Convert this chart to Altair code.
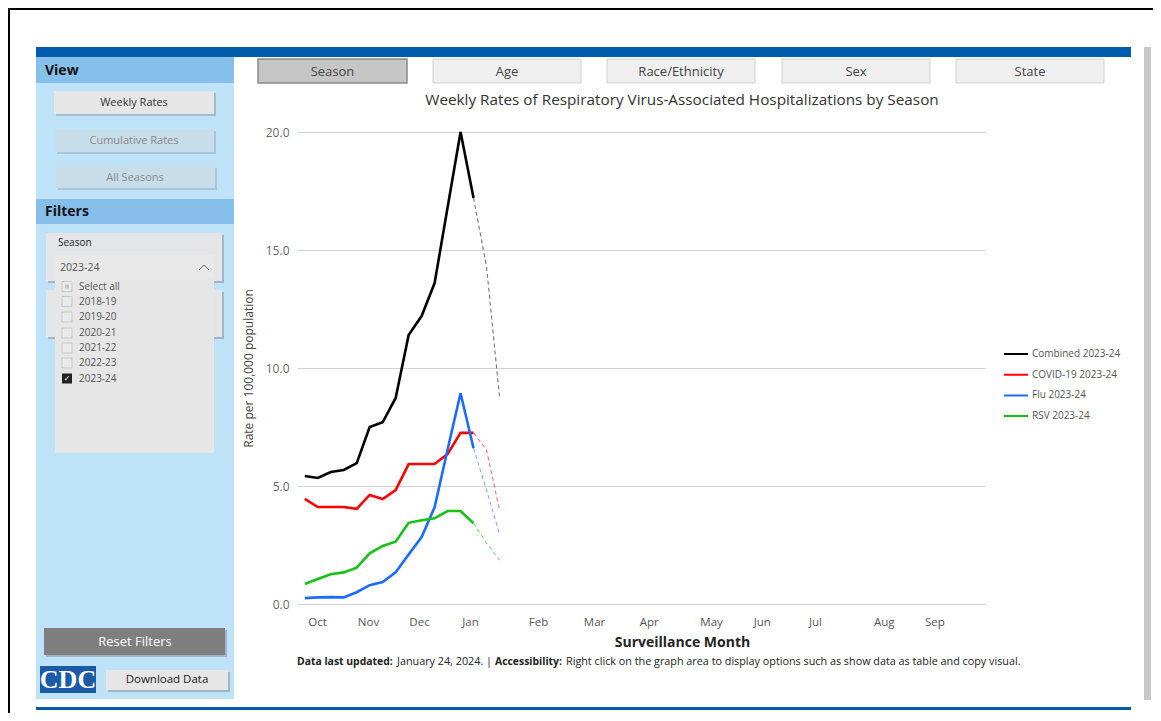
import altair as alt
import pandas as pd

# ---------------- data ----------------
weeks = list(range(16))
combined = [5.42, 5.34, 5.59, 5.68, 5.97, 7.50, 7.70, 8.73, 11.40, 12.20, 13.60, 16.80, 20.00, 17.20, 14.30, 8.77]
covid = [4.45, 4.11, 4.11, 4.11, 4.03, 4.62, 4.45, 4.83, 5.93, 5.93, 5.93, 6.35, 7.25, 7.25, 6.53, 3.98]
flu = [0.25, 0.28, 0.29, 0.28, 0.50, 0.80, 0.93, 1.34, 2.10, 2.84, 4.10, 6.55, 8.93, 6.60, 4.83, 2.96]
rsv = [0.85, 1.06, 1.26, 1.34, 1.54, 2.15, 2.46, 2.64, 3.44, 3.55, 3.63, 3.94, 3.94, 3.42, 2.58, 1.86]
series_names = ["Combined 2023-24", "COVID-19 2023-24", "Flu 2023-24", "RSV 2023-24"]
series_colors = ["#000000", "#FF0000", "#1A6BFF", "#17C217"]
last_final_week = 13  # later weeks are preliminary (dashed)

month_labels = ["Oct", "Nov", "Dec", "Jan", "Feb", "Mar", "Apr", "May", "Jun", "Jul", "Aug", "Sep"]
month_positions = [0.94, 4.87, 8.8, 12.73, 17.97, 22.28, 26.5, 31.3, 35.2, 39.3, 44.6, 48.5]
y_ticks = [0, 5, 10, 15, 20]

season_items = ["Select all", "2018-19", "2019-20", "2020-21", "2021-22", "2022-23", "2023-24"]
tab_labels = ["Season", "Age", "Race/Ethnicity", "Sex", "State"]

rows = []
for name, vals in zip(series_names, [combined, covid, flu, rsv]):
    for w, v in zip(weeks, vals):
        if w <= last_final_week:
            rows.append({"series": name, "week": w, "rate": v, "part": "final"})
        if w >= last_final_week:
            rows.append({"series": name, "week": w, "rate": v, "part": "prelim"})
df = pd.DataFrame(rows)

FONT = "Open Sans"
OX, OY = 297, 132  # page position of plot origin
W, H = 688, 472
SVG_W, SVG_H = 1145, 705

xscale = alt.Scale(domain=[-0.6, 52.4], nice=False, zero=False)
yscale = alt.Scale(domain=[0, 20], nice=False)
cscale = alt.Scale(domain=series_names, range=series_colors)

label_expr = "[" + ",".join("'%s'" % m for m in month_labels) + "][indexof([" + \
    ",".join(str(p) for p in month_positions) + "], datum.value)]"

base = alt.Chart(df)
solid = base.transform_filter(alt.datum.part == "final").mark_line(strokeWidth=2.6).encode(
    x=alt.X("week:Q", scale=xscale,
            axis=alt.Axis(values=month_positions, labelExpr=label_expr, grid=False, ticks=False,
                          domain=False, labelPadding=12, labelFontSize=11.5, labelColor="#555",
                          title="Surveillance Month", titleFontSize=14, titleFontWeight="bold",
                          titleColor="#252423", titleX=385, titleY=38, titleAlign="center",
                          titleBaseline="middle", labelFlush=False)),
    y=alt.Y("rate:Q", scale=yscale,
            axis=alt.Axis(values=y_ticks, format=".1f", grid=True, gridColor="#D2D2D2", ticks=False,
                          domain=False, labelPadding=8, labelFontSize=12, labelColor="#666",
                          title="Rate per 100,000 population", titleFontSize=12,
                          titleFontWeight="normal", titleColor="#444", titleX=-49, titleY=236,
                          titleAlign="center", titleBaseline="middle", titleAngle=270)),
    color=alt.Color("series:N", scale=cscale, sort=series_names,
                    legend=alt.Legend(title=None, orient="none", legendX=706, legendY=216,
                                      symbolType="stroke", symbolSize=576, symbolStrokeWidth=2,
                                      clipHeight=12, rowPadding=8.7, labelFontSize=10,
                                      labelColor="#555", labelOffset=3, labelFont=FONT)),
    detail="series:N",
)
dashed = base.transform_filter(alt.datum.part == "prelim").mark_line(
    strokeWidth=1.1, strokeDash=[4, 3], opacity=0.55).encode(
    x=alt.X("week:Q", scale=xscale),
    y=alt.Y("rate:Q", scale=yscale),
    color=alt.Color("series:N", scale=cscale, legend=None),
    detail="series:N",
)

# ---------------- dashboard decorations (page pixel layout) ----------------
dummy = pd.DataFrame({"d": [0]})


def rect(x1, y1, x2, y2, fill, stroke=None, sw=0.0):
    kw = dict(fill=fill)
    if stroke:
        kw.update(stroke=stroke, strokeWidth=sw)
    return alt.Chart(dummy).mark_rect(**kw).encode(
        x=alt.value(x1 - OX), x2=alt.value(x2 - OX), y=alt.value(y1 - OY), y2=alt.value(y2 - OY))


def seg(x1, y1, x2, y2, color, sw=1.0):
    return alt.Chart(dummy).mark_rule(color=color, strokeWidth=sw).encode(
        x=alt.value(x1 - OX), x2=alt.value(x2 - OX), y=alt.value(y1 - OY), y2=alt.value(y2 - OY))


def text(s, x, y, size=11, color="#333", weight="normal", align="left", font=FONT):
    return alt.Chart(dummy).mark_text(text=s, fontSize=size, color=color, fontWeight=weight,
                                      align=align, baseline="middle", font=font).encode(
        x=alt.value(x - OX), y=alt.value(y - OY))


deco = []
# window frame
deco += [rect(8, 8, 1153, 10, "#000000"), rect(8, 8, 10, 713, "#000000")]
# top blue bar, bottom line, scrollbar
deco += [rect(36, 47, 1131, 57, "#005DAD"), rect(36, 707, 1131, 710, "#005DAD"),
         rect(1144, 47, 1151, 700, "#C8C8C8")]
# left panel
deco += [rect(36, 57, 234, 699, "#BEE3F8"),
         rect(36, 57, 234, 83, "#85BFEA"), text("View", 45, 71, 14, "#111", "bold"),
         rect(36, 199, 234, 224, "#85BFEA"), text("Filters", 45, 212, 14, "#111", "bold")]
# view buttons
deco += [rect(56, 93, 216, 116, "#9FBCD0"), rect(54, 91, 214, 114, "#E6E6E6"),
         text("Weekly Rates", 134, 103, 11, "#333", align="center"),
         rect(57, 131, 216, 154, "#A9C6D8"), rect(55, 129, 214, 152, "#C8DDEA"),
         text("Cumulative Rates", 134, 141, 11, "#8A8A8A", align="center"),
         rect(58, 168, 217, 190, "#A9C6D8"), rect(56, 166, 215, 188, "#C8DDEA"),
         text("All Seasons", 135, 178, 11, "#8A8A8A", align="center")]
# slicers
deco += [rect(48, 292, 224, 339, "#9FB6C6"), rect(46, 290, 222, 337, "#E3E5E6"),
         rect(48, 235, 224, 283, "#9FB6C6"), rect(46, 233, 222, 281, "#E3E5E6"),
         text("Season", 58, 243, 10, "#222"),
         rect(55, 255, 214, 277, "#E8E8E8"),
         text("2023-24", 60, 268, 10.5, "#555"),
         seg(199, 270, 204, 265, "#666", 1), seg(204, 265, 209, 270, "#666", 1),
         rect(55, 277, 214, 453, "#E6E6E6")]
item_y = [286.5, 301.5, 317, 333, 348, 363, 378.5]
for lab, yy in zip(season_items, item_y):
    if lab == "2023-24":
        deco += [rect(62, yy - 5, 72, yy + 5, "#222222"),
                 text("\u2713", 67, yy, 8, "#FFFFFF", align="center", font="DejaVu Sans")]
    else:
        deco += [rect(62, yy - 5, 72, yy + 5, "#E9E9E9", "#C9C9C9", 1)]
        if lab == "Select all":
            deco += [rect(65, yy - 2, 69, yy + 2, "#C4C4C4")]
    deco += [text(lab, 79, yy, 10, "#555")]
# reset / logo / download
deco += [rect(46, 630, 227, 657, "#9FB6C6"), rect(44, 628, 225, 655, "#7F7F7F"),
         text("Reset Filters", 135, 642, 13, "#FFFFFF", align="center"),
         rect(40, 666, 96, 693, "#1B5AA7"),
         text("CDC", 68, 680, 26, "#FFFFFF", "bold", align="center", font="Liberation Serif"),
         rect(108, 672, 230, 692, "#9FB6C6"), rect(106, 670, 228, 690, "#E6E6E6"),
         text("Download Data", 167, 680, 11.5, "#222", align="center")]
# tabs
tab_x = [(258, 407), (433, 581), (607, 755), (782, 930), (956, 1104)]
for lab, (a, b) in zip(tab_labels, tab_x):
    if lab == "Season":
        deco += [rect(a, 59, b, 83, "#C6C6C6", "#8A8A8A", 1.5)]
    else:
        deco += [rect(a, 59, b, 83, "#EFEFEF", "#D2D2D2", 1)]
    deco += [text(lab, (a + b) / 2, 71.5, 13, "#444", align="center")]
# chart title and footer
deco += [text("Weekly Rates of Respiratory Virus-Associated Hospitalizations by Season", 682, 100, 15.3,
              "#333", align="center"),
         text("Data last updated:", 297, 662, 10.4, "#222", "bold"),
         text("January 24, 2024. |", 397, 662, 10.8, "#222"),
         text("Accessibility:", 495, 662, 10.4, "#222", "bold"),
         text("Right click on the graph area to display options such as show data as table and copy visual.",
              566, 662, 10.8, "#222")]

chart = alt.layer(*deco, solid, dashed).properties(
    width=W, height=H,
    padding={"left": OX - 8, "top": OY - 8, "right": SVG_W - (OX - 8) - W,
             "bottom": SVG_H - (OY - 8) - H},
    autosize=alt.AutoSizeParams(type="none"),
    background="#FFFFFF",
).configure(font=FONT).configure_view(strokeWidth=0, stroke="transparent")

chart.save("out.html", embed_options={"renderer": "svg", "actions": False})
